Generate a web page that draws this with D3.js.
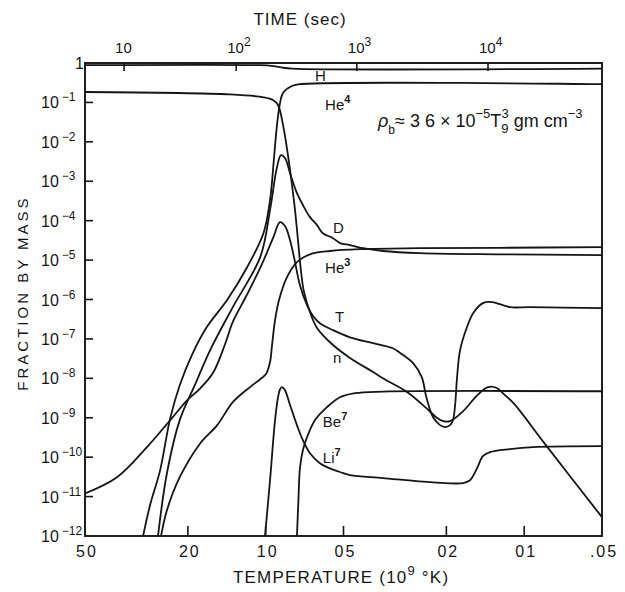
<!DOCTYPE html>
<html>
<head>
<meta charset="utf-8">
<script src="https://cdn.jsdelivr.net/npm/d3@7"></script>
<style>
  body { margin: 0; background: #fff; }
  text { font-family: "Liberation Sans", Arial, sans-serif; fill: #151515; }
</style>
</head>
<body>
<div class="chart"></div>
<script>
// abundances vs temperature (T9), fraction by mass

const width = 625
const height = 592

// temperature axis (10^9 K)
const tempTicks = [5, 2, 1, 0.5, 0.2, 0.1, 0.05]
const tempLabels = ['50', '20', '10', '05', '02', '01', '.05']

// time axis (sec) and the temperature each time corresponds to
const timeTicks = [10, 100, 1000, 10000]
const timeTemps = [3.53, 1.30, 0.444, 0.138]

// mass fraction decades
const massExps = [0, -1, -2, -3, -4, -5, -6, -7, -8, -9, -10, -11, -12]

// [T9, mass fraction]
const hydrogen = [[5, 0.88], [1.05, 0.88], [0.95, 0.85], [0.87, 0.77], [0.79, 0.72], [0.05, 0.72]]

const neutron = [[5, 0.184], [1.37, 0.16], [1.02, 0.135], [0.937, 0.115], [0.896, 0.086], [0.857, 0.027],
  [0.82, 4.6e-3], [0.791, 8e-4], [0.77, 1.86e-4], [0.75, 3.2e-5], [0.731, 5.6e-6], [0.712, 1.63e-6],
  [0.674, 4.8e-7], [0.633, 1.9e-7], [0.549, 7e-8], [0.472, 3.3e-8], [0.384, 1.44e-8], [0.352, 1.0e-8],
  [0.284, 4.5e-9], [0.239, 1.75e-9], [0.217, 9.8e-10], [0.206, 8.2e-10], [0.1936, 8.2e-10],
  [0.1722, 1.47e-9], [0.152, 3.7e-9], [0.138, 6e-9], [0.127, 5.6e-9], [0.121, 4.2e-9],
  [0.110, 2.34e-9], [0.083, 2.14e-10], [0.05, 3.0e-12]]

const helium4 = [[2.98, 1e-12], [2.80, 6.1e-12], [2.56, 4.7e-11], [2.34, 9.8e-10], [2.15, 6.7e-9],
  [1.93, 3.9e-8], [1.69, 2.0e-7], [1.41, 9.7e-7], [1.18, 6.6e-6], [1.02, 4.8e-5], [0.962, 3.3e-4],
  [0.93, 3.45e-3], [0.904, 0.027], [0.88, 0.097], [0.857, 0.173], [0.791, 0.26], [0.737, 0.29], [0.05, 0.29]]

const deuterium = [[2.61, 1e-12], [2.41, 3.9e-11], [2.15, 8.7e-10], [1.88, 6.7e-9], [1.64, 5.2e-8],
  [1.34, 6.4e-7], [1.05, 1.19e-5], [0.962, 1.86e-4], [0.904, 2.3e-3], [0.872, 4.6e-3], [0.842, 3.9e-3],
  [0.805, 1.6e-3], [0.757, 5e-4], [0.718, 2.5e-4], [0.674, 1.23e-4], [0.633, 7.7e-5], [0.601, 4.8e-5],
  [0.549, 3.6e-5], [0.516, 2.7e-5], [0.472, 2.4e-5], [0.42, 2.0e-5], [0.352, 1.7e-5], [0.253, 1.5e-5],
  [0.124, 1.4e-5], [0.05, 1.34e-5]]

const tritium = [[5, 1.2e-11], [3.76, 3.1e-11], [2.88, 1.8e-10], [2.34, 8.7e-10], [2.01, 2.8e-9],
  [1.79, 5.6e-9], [1.60, 1.36e-8], [1.44, 7e-8], [1.34, 2.7e-7], [1.20, 1.09e-6], [1.05, 6.3e-6],
  [0.937, 3.6e-5], [0.88, 9.2e-5], [0.842, 7.3e-5], [0.805, 3.2e-5], [0.77, 8.9e-6], [0.737, 2.3e-6],
  [0.692, 7.2e-7], [0.656, 3.8e-7], [0.617, 2.5e-7], [0.549, 1.67e-7], [0.472, 1.1e-7], [0.384, 7.8e-8],
  [0.322, 5.8e-8], [0.302, 4.4e-8], [0.269, 2.43e-8], [0.249, 1.07e-8], [0.239, 3.3e-9], [0.225, 1.03e-9],
  [0.2116, 6.5e-10], [0.2025, 5.8e-10], [0.1936, 6.5e-10], [0.1886, 8.7e-10], [0.185, 2.1e-9],
  [0.1818, 1.07e-8], [0.177, 5.2e-8], [0.1664, 2.0e-7], [0.1576, 4.5e-7], [0.1445, 8.1e-7],
  [0.133, 8.6e-7], [0.1135, 6.4e-7], [0.095, 6.4e-7], [0.05, 6.05e-7]]

const helium3 = [[2.54, 1e-12], [2.41, 4.5e-12], [2.15, 3.1e-11], [1.79, 2.26e-10], [1.54, 6.5e-10],
  [1.34, 2.5e-9], [1.15, 6e-9], [1.05, 9.5e-9], [0.997, 1.28e-8], [0.962, 2.6e-8], [0.945, 7e-8],
  [0.92, 3.0e-7], [0.888, 9.7e-7], [0.827, 3.7e-6], [0.757, 8.9e-6], [0.674, 1.4e-5], [0.564, 1.7e-5],
  [0.432, 1.9e-5], [0.253, 2.0e-5], [0.124, 2.05e-5], [0.05, 2.14e-5]]

const beryllium7 = [[0.757, 1e-12], [0.747, 8.1e-12], [0.737, 5.3e-11], [0.718, 1.5e-10], [0.692, 3.2e-10],
  [0.645, 8.7e-10], [0.579, 1.86e-9], [0.516, 3.3e-9], [0.451, 4.2e-9], [0.352, 4.6e-9], [0.05, 4.7e-9]]

const lithium7 = [[1.006, 1e-12], [0.962, 2.6e-11], [0.92, 8.7e-10], [0.896, 3.3e-9], [0.88, 5.3e-9],
  [0.865, 6e-9], [0.842, 5e-9], [0.805, 2.1e-9], [0.757, 6.5e-10], [0.718, 2.7e-10], [0.674, 1.26e-10],
  [0.617, 7e-11], [0.579, 5.6e-11], [0.516, 4.2e-11], [0.472, 3.5e-11], [0.352, 2.95e-11], [0.225, 2.3e-11],
  [0.1722, 2.2e-11], [0.162, 2.6e-11], [0.152, 5.3e-11], [0.1445, 1.06e-10], [0.1356, 1.34e-10],
  [0.1135, 1.6e-10], [0.0925, 1.8e-10], [0.05, 1.9e-10]]

const series = [hydrogen, neutron, helium4, deuterium, tritium, helium3, beryllium7, lithium7]

// curve labels: text, superscript, T9, mass fraction at baseline
const curveLabels = [
  ['H', '', 0.645, 0.35],
  ['He', '4', 0.589, 0.064],
  ['D', '', 0.549, 4.8e-5],
  ['He', '3', 0.589, 4.7e-6],
  ['T', '', 0.539, 2.7e-7],
  ['n', '', 0.549, 2.43e-8],
  ['Be', '7', 0.601, 5.8e-10],
  ['Li', '7', 0.601, 7e-11]
]

const x = d3.scaleLog().domain([5, 0.05]).range([85, 602])
const y = d3.scaleLog().domain([1, 1e-12]).range([63, 536])
const t = d3.scaleLog().domain(timeTicks).range(timeTemps.map(x))

const svg = d3.select('.chart')
  .append('svg')
  .attr('width', width)
  .attr('height', height)
  .attr('viewBox', [0, 0, width, height])

svg.append('clipPath').attr('id', 'plot')
  .append('rect')
  .attr('x', 85).attr('y', 63)
  .attr('width', 517).attr('height', 473)

const line = d3.line()
  .x(d => x(d[0]))
  .y(d => y(d[1]))
  .curve(d3.curveCatmullRom.alpha(0.5))

svg.append('g')
  .attr('clip-path', 'url(#plot)')
  .selectAll('path')
  .data(series)
  .enter().append('path')
    .attr('d', line)
    .attr('fill', 'none')
    .attr('stroke', '#151515')
    .attr('stroke-width', 1.8)

// frame
svg.append('rect')
  .attr('x', 85).attr('y', 63)
  .attr('width', 517).attr('height', 473)
  .attr('fill', 'none')
  .attr('stroke', '#151515')
  .attr('stroke-width', 1.9)

// left axis
const left = svg.append('g')
left.selectAll('line')
  .data(massExps.filter(e => e < 0 && e > -12))
  .enter().append('line')
    .attr('x1', 85).attr('x2', 93)
    .attr('y1', e => y(Math.pow(10, e))).attr('y2', e => y(Math.pow(10, e)))
    .attr('stroke', '#151515').attr('stroke-width', 1.6)

const ylab = left.selectAll('text')
  .data(massExps)
  .enter().append('text')
    .attr('y', e => y(Math.pow(10, e)) + 6)
    .attr('font-size', 16)

ylab.filter(e => e === 0)
  .attr('x', 84).attr('text-anchor', 'end').text('1')

ylab.filter(e => e !== 0).each(function(e) {
  const g = d3.select(this).attr('x', 41)
  g.append('tspan').text('10')
  g.append('tspan').attr('dx', 3).attr('dy', -7).attr('font-size', 12).text('\u2212' + (-e))
})

// bottom axis
svg.append('g').selectAll('line')
  .data(tempTicks.slice(1, -1))
  .enter().append('line')
    .attr('x1', d => x(d)).attr('x2', d => x(d))
    .attr('y1', 536).attr('y2', 526)
    .attr('stroke', '#151515').attr('stroke-width', 1.6)

svg.append('g').selectAll('text')
  .data(tempTicks)
  .enter().append('text')
    .attr('x', d => x(d) + 2)
    .attr('y', 557)
    .attr('text-anchor', 'middle')
    .attr('font-size', 16)
    .attr('letter-spacing', 2)
    .text((d, i) => tempLabels[i])

// top (time) axis
svg.append('g').selectAll('line')
  .data(timeTicks)
  .enter().append('line')
    .attr('x1', d => t(d)).attr('x2', d => t(d))
    .attr('y1', 63).attr('y2', 71)
    .attr('stroke', '#151515').attr('stroke-width', 1.6)

svg.append('g').selectAll('text')
  .data(timeTicks)
  .enter().append('text')
    .attr('x', d => t(d) - 9)
    .attr('y', 53)
    .attr('font-size', 15)
    .each(function(d) {
      const e = Math.round(Math.log10(d))
      const g = d3.select(this)
      g.append('tspan').text('10')
      if (e > 1) g.append('tspan').attr('dy', -7).attr('font-size', 12).text(e)
    })

// axis titles
svg.append('text')
  .attr('x', 300).attr('y', 25)
  .attr('text-anchor', 'middle')
  .attr('font-size', 17)
  .attr('letter-spacing', 1)
  .text('TIME (sec)')

const xt = svg.append('text')
  .attr('x', 233).attr('y', 583)
  .attr('font-size', 17)
  .attr('letter-spacing', 1.2)
xt.append('tspan').text('TEMPERATURE  (10')
xt.append('tspan').attr('dy', -8).attr('font-size', 13).text('9')
xt.append('tspan').attr('dy', 8).text(' \u00b0K)')

svg.append('text')
  .attr('transform', 'translate(28,293) rotate(-90)')
  .attr('text-anchor', 'middle')
  .attr('font-size', 15)
  .attr('letter-spacing', 3)
  .text('FRACTION BY MASS')

// density formula
const f = svg.append('text')
  .attr('x', 378).attr('y', 127)
  .attr('font-size', 18)
f.append('tspan').attr('font-style', 'italic').text('\u03c1')
f.append('tspan').attr('dy', 7).attr('font-size', 12).text('b')
f.append('tspan').attr('dy', -7).text('\u2248 3 6 \u00d7 10')
f.append('tspan').attr('dy', -9).attr('font-size', 13).text('\u22125')
f.append('tspan').attr('dy', 9).text('T')
f.append('tspan').attr('dy', 6).attr('font-size', 13).text('9')
f.append('tspan').attr('dx', -7).attr('dy', -15).attr('font-size', 13).text('3')
f.append('tspan').attr('dy', 9).text('  gm  cm')
f.append('tspan').attr('dy', -9).attr('font-size', 13).text('\u22123')

// curve labels
svg.append('g').selectAll('text')
  .data(curveLabels)
  .enter().append('text')
    .attr('x', d => x(d[2]))
    .attr('y', d => y(d[3]))
    .attr('font-size', 15)
    .each(function(d) {
      const g = d3.select(this)
      g.append('tspan').text(d[0])
      if (d[1]) g.append('tspan').attr('dy', -7).attr('font-size', 11).attr('font-weight', 'bold').text(d[1])
    })
</script>
</body>
</html>
